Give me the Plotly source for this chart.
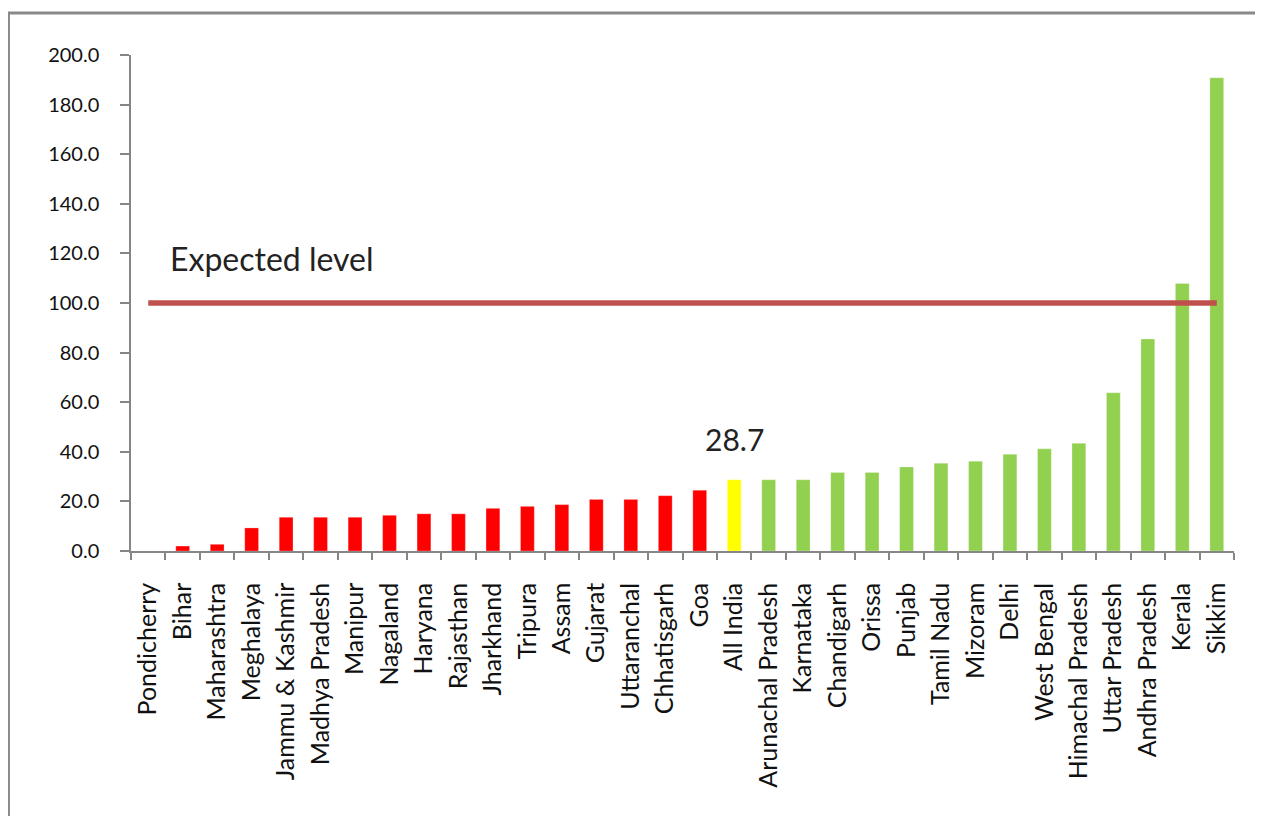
import plotly.graph_objects as go

categories = ["Pondicherry", "Bihar", "Maharashtra", "Meghalaya", "Jammu & Kashmir",
              "Madhya Pradesh", "Manipur", "Nagaland", "Haryana", "Rajasthan",
              "Jharkhand", "Tripura", "Assam", "Gujarat", "Uttaranchal", "Chhatisgarh",
              "Goa", "All India", "Arunachal Pradesh", "Karnataka", "Chandigarh",
              "Orissa", "Punjab", "Tamil Nadu", "Mizoram", "Delhi", "West Bengal",
              "Himachal Pradesh", "Uttar Pradesh", "Andhra Pradesh", "Kerala", "Sikkim"]
values = [0.0, 2.0, 2.7, 9.3, 13.6, 13.6, 13.6, 14.4, 15.0, 15.0,
          17.2, 18.0, 18.7, 20.8, 20.8, 22.3, 24.5, 28.7, 28.7, 28.7,
          31.7, 31.7, 33.9, 35.4, 36.2, 39.0, 41.2, 43.4, 63.8, 85.5, 107.9, 190.8]
groups = ["below"] * 17 + ["india"] + ["above"] * 14
group_colors = {"below": "#FF0000", "india": "#FFFF00", "above": "#92D050"}
expected_level = 100.0
y_ticks = [0, 20, 40, 60, 80, 100, 120, 140, 160, 180, 200]

FONT = "Lato"
AXIS = "#868686"

fig = go.Figure()
fig.add_trace(go.Bar(
    x=categories, y=values, width=0.4,
    marker=dict(color=[group_colors[g] for g in groups],
                line=dict(color="rgba(255,255,255,0.5)", width=0.5)),
    showlegend=False, hoverinfo="x+y",
))
fig.add_trace(go.Scatter(
    x=[categories[0], categories[-1]], y=[expected_level, expected_level],
    mode="lines", line=dict(color="#C0504D", width=5.5), showlegend=False,
))

fig.add_annotation(
    xref="paper", x=0.0335, yref="y", y=118, xanchor="left", yanchor="middle",
    text="Expected level", showarrow=False,
    font=dict(family=FONT, size=32, color="#222222"),
)
ai = categories.index("All India")
fig.add_annotation(
    x=categories[ai], y=values[ai], xanchor="center", yanchor="bottom", yshift=21,
    text=f"{values[ai]:.1f}", showarrow=False,
    font=dict(family=FONT, size=30, color="#222222"),
)

# outer chart frame
fig.add_shape(type="rect", xref="paper", yref="paper",
              x0=-0.1111, x1=2, y0=-2, y1=1.0847,
              line=dict(color="#898989", width=3), fillcolor="rgba(0,0,0,0)",
              layer="below")

fig.update_layout(
    width=1255, height=808,
    margin=dict(l=123, r=29, t=47, b=265),
    paper_bgcolor="white", plot_bgcolor="white",
    bargap=0.6,
    xaxis=dict(
        type="category", tickson="boundaries", ticks="outside", ticklen=7,
        tickcolor=AXIS, tickwidth=1.5, showline=True, linecolor=AXIS, linewidth=1.5,
        showgrid=False, tickangle=-90, ticklabelstandoff=20,
        tickfont=dict(family=FONT, size=25, color="#111111"),
        range=[-0.5, len(categories) - 0.5],
    ),
    yaxis=dict(
        range=[0, 200], tickvals=y_ticks, ticktext=[f"{v:.1f}" for v in y_ticks],
        ticks="outside", ticklen=9, tickcolor=AXIS, tickwidth=1.5,
        showline=True, linecolor=AXIS, linewidth=1.5, showgrid=False, zeroline=False,
        ticklabelstandoff=17,
        tickfont=dict(family=FONT, size=20, color="#111111"),
    ),
)

fig.write_html("out.html")
